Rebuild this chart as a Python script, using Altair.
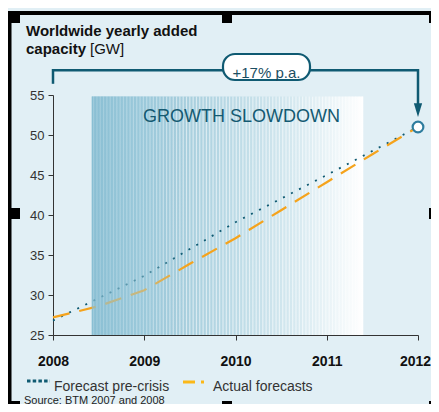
import altair as alt
import pandas as pd
import numpy as np

FONT = "Liberation Sans"
TEAL = "#0f5a72"
ORANGE = "#f5a31c"
BG = "#e1eff5"

# ---- data ----
pre_years = [2008, 2009, 2010, 2011, 2012]
pre_values = [26.8, 32.4, 39.1, 45.0, 51.0]

act_years = [2008, 2008.5, 2009, 2009.5, 2010, 2010.5, 2011, 2011.5, 2012]
act_values = [27.2, 28.6, 30.6, 33.9, 37.1, 40.6, 44.1, 47.6, 51.0]

y_ticks = [25, 30, 35, 40, 45, 50, 55]
x_ticks = [2008, 2009, 2010, 2011, 2012]

band_start, band_end, band_top = 2008.425, 2011.40, 54.8
target_year, target_value = 2012, 51.0
bracket_level = 58.1

pre_df = pd.DataFrame({"year": pre_years, "value": pre_values})
act_df = pd.DataFrame({"year": act_years, "value": act_values})

xs = alt.Scale(domain=[2008, 2012], nice=False)
ys = alt.Scale(domain=[25, 55], nice=False)

XAX = alt.Axis(values=x_ticks, format="d", title=None, labelFlush=False, labelOverlap=False,
               labelOffset=alt.ExprRef("datum.value == 2012 ? -3 : 0"))
YAX = alt.Axis(values=y_ticks, title=None, labelFlush=False, labelOverlap=False)


def X(f):
    return alt.X(f, type="quantitative", scale=xs, axis=XAX)


def Y(f):
    return alt.Y(f, type="quantitative", scale=ys, axis=YAX)


one = pd.DataFrame({"a": [0]})

# band
band_df = pd.DataFrame({"x": [band_start], "x2": [band_end], "y": [25], "y2": [band_top]})
band = alt.Chart(band_df).mark_rect(
    color=alt.LinearGradient(
        gradient="linear", x1=0, x2=1, y1=0, y2=0,
        stops=[alt.GradientStop(color="#86bdd2", offset=0),
               alt.GradientStop(color="#a2cbdb", offset=0.3),
               alt.GradientStop(color="#b9d9e5", offset=0.5),
               alt.GradientStop(color="#d6e9f0", offset=0.75),
               alt.GradientStop(color="#eef6f9", offset=0.9),
               alt.GradientStop(color="#ffffff", offset=1)])
).encode(x=X("x"), x2="x2:Q", y=Y("y"), y2="y2:Q")

# stripe texture
stripe_x = np.linspace(band_start + 0.02, band_end - 0.01, 82)
stripe_df = pd.DataFrame({"x": stripe_x, "y": 25.0, "y2": band_top})
stripes = alt.Chart(stripe_df).mark_rule(color="white", strokeWidth=1.2, opacity=0.55).encode(
    x=X("x"), y=Y("y"), y2="y2:Q")

pre = alt.Chart(pre_df).mark_line(color=TEAL, strokeWidth=1.8, strokeDash=[2, 7]).encode(
    x=X("year"), y=Y("value"))
act = alt.Chart(act_df).mark_line(color=ORANGE, strokeWidth=2.2, strokeDash=[17, 10]).encode(
    x=X("year"), y=Y("value"))

fade_df = pd.DataFrame({"x": [band_start], "x2": [2009.45], "y": [25], "y2": [band_top]})
fade = alt.Chart(fade_df).mark_rect(
    color=alt.LinearGradient(
        gradient="linear", x1=0, x2=1, y1=0, y2=0,
        stops=[alt.GradientStop(color="rgba(140,192,212,0.7)", offset=0),
               alt.GradientStop(color="rgba(160,205,222,0.45)", offset=0.6),
               alt.GradientStop(color="rgba(170,210,225,0)", offset=1)])
).encode(x=X("x"), x2="x2:Q", y=Y("y"), y2="y2:Q")

growth = alt.Chart(one).mark_text(text="GROWTH SLOWDOWN", font=FONT, fontSize=18,
                                  color="#145a72", align="center").encode(
    x=alt.value(188.5), y=alt.value(21.5))

# bracket
br_df = pd.DataFrame({"x": [2008], "x2": [2012], "y": [bracket_level]})
br_h = alt.Chart(br_df).mark_rule(color=TEAL, strokeWidth=2.5).encode(
    x=X("x"), x2="x2:Q", y=Y("y"))
brl_df = pd.DataFrame({"x": [2008], "y": [bracket_level + 0.15], "y2": [56.4]})
br_l = alt.Chart(brl_df).mark_rule(color=TEAL, strokeWidth=2.5).encode(
    x=X("x"), y=Y("y"), y2="y2:Q")
brr_df = pd.DataFrame({"x": [target_year], "y": [bracket_level + 0.15], "y2": [53.6]})
br_r = alt.Chart(brr_df).mark_rule(color=TEAL, strokeWidth=2.5).encode(
    x=X("x"), y=Y("y"), y2="y2:Q")
arr_df = pd.DataFrame({"x": [target_year], "y": [53.1]})
arrow = alt.Chart(arr_df).mark_point(shape="M-0.6,-1L0.6,-1L0,1Z", filled=True, size=190,
                                     color=TEAL, opacity=1).encode(
    x=X("x"), y=Y("y"))
circ_df = pd.DataFrame({"x": [target_year], "y": [target_value]})
circle = alt.Chart(circ_df).mark_point(shape="circle", filled=False, fill="white", size=115,
                                       stroke="#2f7d9e", strokeWidth=2.2, opacity=1,
                                       fillOpacity=1).encode(
    x=X("x"), y=Y("y"))

box = alt.Chart(one).mark_rect(fill="white", stroke=TEAL, strokeWidth=2.2,
                               cornerRadius=12).encode(
    x=alt.value(170), x2=alt.value(257), y=alt.value(-41), y2=alt.value(-15))
box_txt = alt.Chart(one).mark_text(text="+17% p.a.", font=FONT, fontSize=15,
                                   color="#1b4e62", align="center").encode(
    x=alt.value(213.5), y=alt.value(-22.5))

# titles
t1 = alt.Chart(one).mark_text(text="Worldwide yearly added", font=FONT, fontSize=15,
                              fontWeight="bold", color="#111", align="left").encode(
    x=alt.value(-27), y=alt.value(-64))
t2 = alt.Chart(one).mark_text(text="capacity", font=FONT, fontSize=15,
                              fontWeight="bold", color="#111", align="left").encode(
    x=alt.value(-27), y=alt.value(-46))
t3 = alt.Chart(one).mark_text(text="[GW]", font=FONT, fontSize=15,
                              color="#111", align="left").encode(
    x=alt.value(37), y=alt.value(-46))

# legend
lg1 = alt.Chart(one).mark_rule(color=TEAL, strokeWidth=3, strokeDash=[3.5, 2.2]).encode(
    x=alt.value(-26), x2=alt.value(-3), y=alt.value(286))
lg1t = alt.Chart(one).mark_text(text="Forecast pre-crisis", font=FONT, fontSize=14,
                                color="#333", align="left").encode(
    x=alt.value(1), y=alt.value(291.5))
lg2a = alt.Chart(one).mark_rule(color="#fbb818", strokeWidth=3).encode(
    x=alt.value(130), x2=alt.value(142), y=alt.value(287))
lg2b = alt.Chart(one).mark_rule(color="#fbb818", strokeWidth=3).encode(
    x=alt.value(148), x2=alt.value(151), y=alt.value(287))
lg2t = alt.Chart(one).mark_text(text="Actual forecasts", font=FONT, fontSize=14,
                                color="#333", align="left").encode(
    x=alt.value(160), y=alt.value(291.5))
src = alt.Chart(one).mark_text(text="Source: BTM 2007 and 2008", font=FONT, fontSize=11,
                               color="#222", align="left").encode(
    x=alt.value(-29), y=alt.value(305.5))

# frame (black bars and corner blocks)
def blk(x1, x2, y1, y2):
    return alt.Chart(one).mark_rect(color="black").encode(
        x=alt.value(x1 - 53), x2=alt.value(x2 - 53), y=alt.value(y1 - 95), y2=alt.value(y2 - 95))

frame = [
    blk(8, 11.5, 11, 420), blk(8, 445, 11, 15),
    blk(8, 20, 11, 23), blk(222, 232, 11, 23), blk(429, 445, 11, 23),
    blk(8, 20, 208, 219), blk(429, 445, 208, 219),
    blk(8, 20, 401, 420), blk(222, 232, 401, 420), blk(429, 445, 401, 420),
]

chart = alt.layer(
    band, stripes, pre, act, fade, growth,
    br_h, br_l, br_r, arrow, circle, box, box_txt,
    t1, t2, t3, lg1, lg1t, lg2a, lg2b, lg2t, src, *frame
).properties(
    width=365, height=240, autosize="none",
    padding={"left": 45, "top": 87, "right": 13, "bottom": 69},
    background=BG,
).configure_view(stroke=None).configure_axis(
    grid=False, domainColor="#333", tickColor="#333", tickSize=5,
    labelFont=FONT, domainWidth=1,
).configure_axisX(
    labelFontSize=14, labelFontWeight="bold", labelColor="#111", labelPadding=14,
).configure_axisY(
    labelFontSize=13, labelColor="#333", labelPadding=4,
)

chart.save("out.html", embed_options={"renderer": "svg", "actions": False})
